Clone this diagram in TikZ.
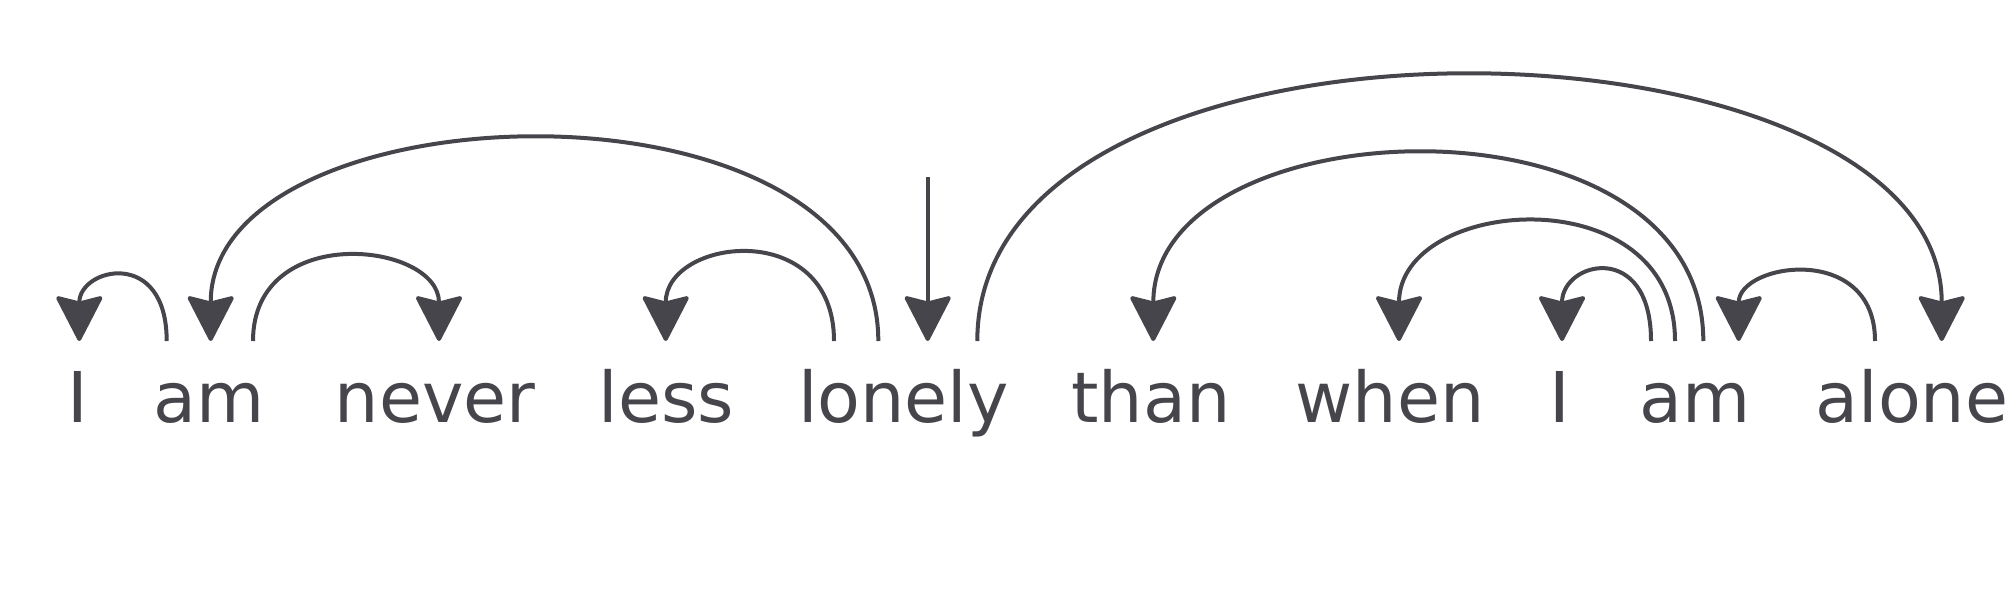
\documentclass[tikz,border=0pt]{standalone}
\usepackage{fontspec}
\setmainfont{DejaVu Sans}
\usetikzlibrary{arrows.meta}
\definecolor{dep}{RGB}{70,69,75}

\begin{document}
\begin{tikzpicture}[x=0.5pt, y=-0.5pt, line width=2pt, color=dep,
  wort/.style={anchor=base, inner sep=0pt, font=\fontsize{35}{42}\selectfont},
  bogen/.style={-{Stealth[length=24pt, width=24.5pt, inset=3pt, round]}}]
\useasboundingbox (0,0) rectangle (2011,600);

% Woerter
\node[wort] (I1) at (78.3,422.3) {I};
\node[wort] (am1) at (208.8,422.3) {am};
\node[wort] (never) at (435,422.3) {never};
\node[wort] (less) at (666.5,422.3) {less};
\node[wort] (lonely) at (903.5,422.3) {lonely};
\node[wort] (than) at (1151,422.3) {than};
\node[wort] (when) at (1390,422.3) {when};
\node[wort] (I2) at (1560,422.3) {I};
\node[wort] (am2) at (1695,422.3) {am};
\node[wort] (alone) at (1912,422.3) {alone};

% Spitzen
\coordinate (I1-in) at (79.3,341);
\coordinate (am1-in) at (210.7,341);
\coordinate (never-in) at (439,341);
\coordinate (less-in) at (665.7,341);
\coordinate (lonely-in) at (927.7,341);
\coordinate (than-in) at (1153.3,341);
\coordinate (when-in) at (1399,341);
\coordinate (I2-in) at (1562,341);
\coordinate (am2-in) at (1738.7,341);
\coordinate (alone-in) at (1941.7,341);

% Fusspunkte
\coordinate (am1-a) at (166.7,341);
\coordinate (am1-b) at (253,341);
\coordinate (lonely-a) at (834,341);
\coordinate (lonely-b) at (878.3,341);
\coordinate (lonely-c) at (977.3,341);
\coordinate (am2-a) at (1651,341);
\coordinate (am2-b) at (1675,341);
\coordinate (am2-c) at (1703.3,341);
\coordinate (alone-a) at (1875,341);
\coordinate (root) at (927.7,177);

% Boegen
\draw[bogen] (am1-a) .. controls +(0,-94) and +(0,-73) .. (I1-in);
\draw[bogen] (am1-b) .. controls +(0,-120) and +(0,-99) .. (never-in);
\draw[bogen] (lonely-a) .. controls +(0,-124) and +(0,-103) .. (less-in);
\draw[bogen] (lonely-b) .. controls +(0,-277) and +(0,-256) .. (am1-in);
\draw[bogen] (lonely-c) .. controls +(0,-361) and +(0,-340) .. (alone-in);
\draw[bogen] (am2-c) .. controls +(0,-257) and +(0,-236) .. (than-in);
\draw[bogen] (am2-b) .. controls +(0,-166) and +(0,-145) .. (when-in);
\draw[bogen] (am2-a) .. controls +(0,-101) and +(0,-80) .. (I2-in);
\draw[bogen] (alone-a) .. controls +(0,-99) and +(0,-78) .. (am2-in);

% Wurzel
\draw[bogen] (root) -- (lonely-in);
\end{tikzpicture}
\end{document}
